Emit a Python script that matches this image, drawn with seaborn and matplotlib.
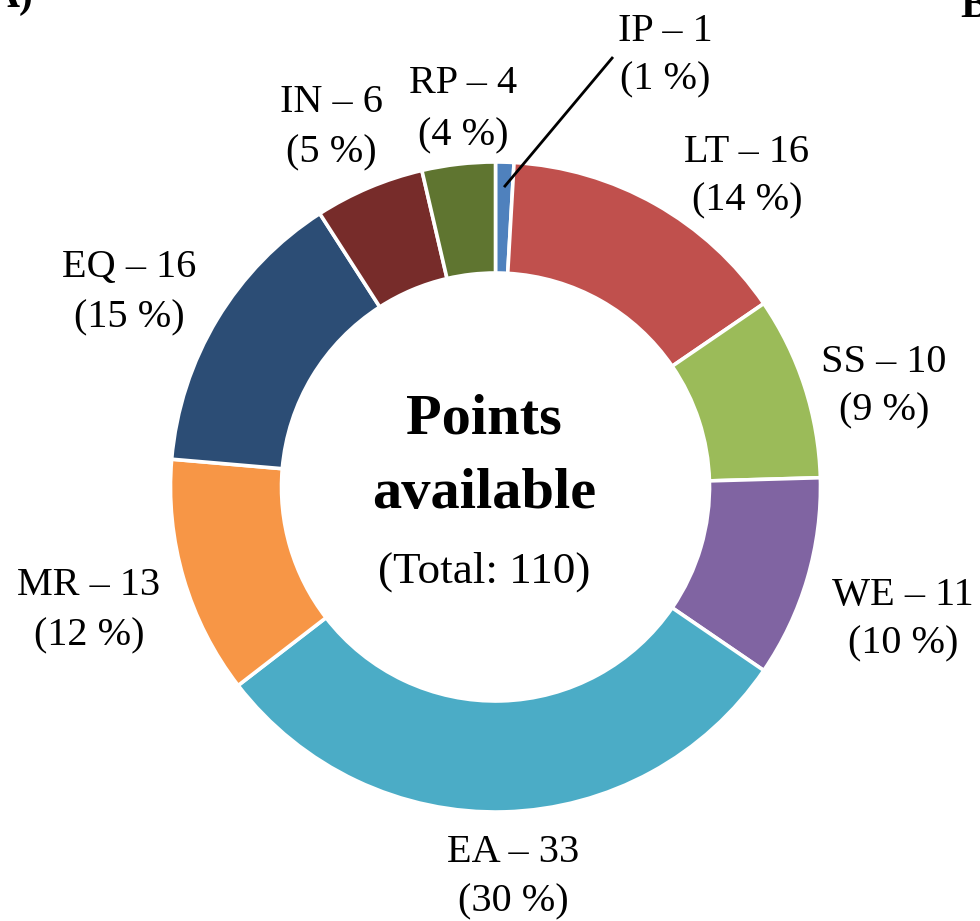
import numpy as np
import matplotlib
matplotlib.use("Agg")
import matplotlib.pyplot as plt
import seaborn as sns

# Scoring categories and the points available in each
categories = ["IP", "LT", "SS", "WE", "EA", "MR", "EQ", "IN", "RP"]
points = [1, 16, 10, 11, 33, 13, 16, 6, 4]
percent_labels = [1, 14, 9, 10, 30, 12, 15, 5, 4]
total_points = 110

colors = ["#4F81BD", "#C0504D", "#9BBB59", "#8064A2", "#4BACC6",
          "#F79646", "#2C4D75", "#772C2A", "#5F7530"]

sns.set_theme(style="white")
plt.rcParams["font.family"] = ["Liberation Serif", "DejaVu Serif"]

W, H = 980, 921
fig = plt.figure(figsize=(W / 100, H / 100), dpi=100)
ax = fig.add_axes([0, 0, 1, 1])

# layout in pixel units (y measured downward from the top edge)
cx, cy = 495.5, 487.0
r_outer, r_inner = 325.0, 214.0

palette = sns.color_palette(colors)
wedges, _ = ax.pie(points, colors=palette, startangle=90, counterclock=False,
                   radius=r_outer, center=(cx, -cy),
                   wedgeprops=dict(width=r_outer - r_inner, edgecolor="white",
                                   linewidth=2.6))

ax.set_xlim(0, W)
ax.set_ylim(-H, 0)
ax.set_aspect("auto")
ax.axis("off")

# label anchors: (x centre, first baseline, second baseline)
label_pos = {
    "IP": (665, 41, 89),
    "LT": (747, 162, 210),
    "SS": (884, 372, 420),
    "WE": (903, 605, 653),
    "EA": (513, 862, 911),
    "MR": (89, 595, 645),
    "EQ": (129, 277, 327),
    "IN": (331, 112, 162),
    "RP": (463, 93, 145),
}
fs = 29
for cat, val, pct in zip(categories, points, percent_labels):
    x, y1, y2 = label_pos[cat]
    ax.text(x, -y1, f"{cat} \u2013 {val}", ha="center", va="baseline",
            fontsize=fs, color="black")
    ax.text(x, -y2, f"({pct} %)", ha="center", va="baseline",
            fontsize=fs, color="black")

# leader line from the thin IP slice to its label
w0 = wedges[0]
mid = np.deg2rad((w0.theta1 + w0.theta2) / 2)
sx, sy = cx + 300 * np.cos(mid), -cy + 300 * np.sin(mid)
ax.plot([sx, 613], [sy, -57], color="black", lw=2.0, solid_capstyle="butt")

# centre caption
ax.text(484, -433, "Points", ha="center", va="baseline", fontsize=42,
        fontweight="bold", color="black")
ax.text(484, -508, "available", ha="center", va="baseline", fontsize=42,
        fontweight="bold", color="black")
ax.text(484, -583, f"(Total: {total_points})", ha="center", va="baseline",
        fontsize=32.5, color="black")

# panel letters
ax.text(33, -7, "A)", ha="right", va="baseline", fontsize=30,
        fontweight="bold", color="black")
ax.text(960, -17, "B)", ha="left", va="baseline", fontsize=30,
        fontweight="bold", color="black")

fig.savefig("out.png", dpi=100)
